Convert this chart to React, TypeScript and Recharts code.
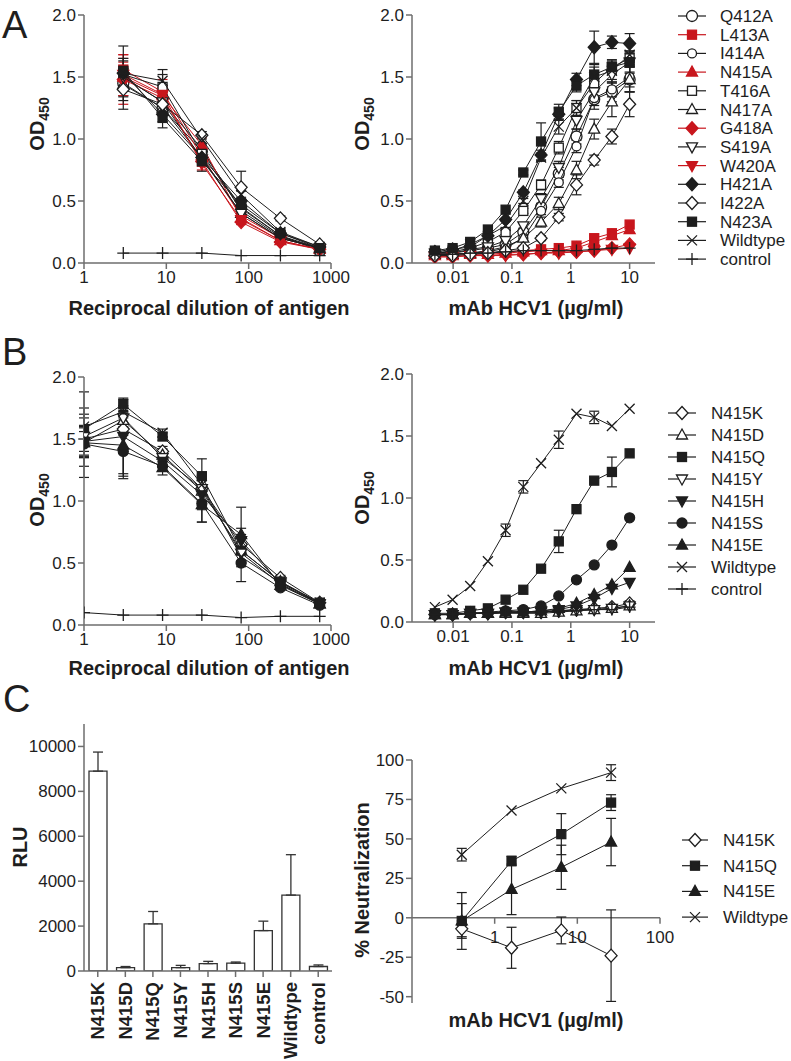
import React from "react";
import { ScatterChart, Scatter, XAxis, YAxis, ErrorBar, BarChart, Bar, ReferenceLine } from "recharts";

const FONT = '"Liberation Sans", Arial, Helvetica, sans-serif';
const INK = "#1e1e1e";
const AXIS = "#6e6e6e";
const RED = "#c8161d";

// x values
const dilutionA = [3, 9, 27, 81, 243, 729];
const dilutionB = [1, 3, 9, 27, 81, 243, 729];
const mabConc = [0.0049, 0.0098, 0.0195, 0.039, 0.078, 0.156, 0.3125, 0.625, 1.25, 2.5, 5, 10];
const neutConc = [0.4, 1.6, 6.4, 25.6];

// series names
const namesA = ["Q412A", "L413A", "I414A", "N415A", "T416A", "N417A", "G418A", "S419A", "W420A", "H421A", "I422A", "N423A", "Wildtype", "control"];
const namesB = ["N415K", "N415D", "N415Q", "N415Y", "N415H", "N415S", "N415E", "Wildtype", "control"];
const namesC = ["N415K", "N415Q", "N415E", "Wildtype"];

// panel A, antigen dilution (OD450), one row per name
const odAntigenA = [
  [1.45, 1.25, 0.9, 0.45, 0.22, 0.12],
  [1.56, 1.38, 0.86, 0.38, 0.2, 0.12],
  [1.5, 1.3, 0.92, 0.42, 0.21, 0.12],
  [1.5, 1.35, 0.95, 0.36, 0.18, 0.11],
  [1.52, 1.42, 0.88, 0.44, 0.22, 0.1],
  [1.44, 1.25, 0.85, 0.4, 0.2, 0.12],
  [1.48, 1.33, 0.82, 0.33, 0.17, 0.11],
  [1.5, 1.3, 0.84, 0.4, 0.2, 0.12],
  [1.52, 1.36, 0.8, 0.35, 0.18, 0.11],
  [1.53, 1.2, 0.85, 0.5, 0.24, 0.13],
  [1.4, 1.28, 1.03, 0.61, 0.36, 0.15],
  [1.55, 1.17, 0.82, 0.47, 0.24, 0.12],
  [1.53, 1.47, 1.0, 0.55, 0.25, 0.13],
  [0.08, 0.08, 0.08, 0.06, 0.06, 0.06],
];
const errAntigenA = [
  [0.1, 0.05, 0.03, 0.02, 0.01, 0],
  [0.12, 0.1, 0.05, 0.03, 0, 0],
  [0.08, 0.04, 0, 0.02, 0, 0],
  [0.15, 0.08, 0.06, 0.02, 0, 0],
  [0.05, 0.1, 0.03, 0.02, 0, 0],
  [0.1, 0.05, 0.03, 0, 0, 0],
  [0.2, 0.06, 0.04, 0.02, 0, 0],
  [0.08, 0.04, 0.03, 0, 0, 0],
  [0.1, 0.06, 0.05, 0.02, 0, 0],
  [0.12, 0.06, 0.05, 0.03, 0.01, 0],
  [0.16, 0.04, 0.03, 0.13, 0.02, 0],
  [0.08, 0.08, 0.08, 0.03, 0.02, 0.01],
  [0.22, 0.09, 0.04, 0.03, 0.01, 0],
  [0, 0, 0, 0, 0, 0],
];

// panel A, mAb titration
const odMabA = [
  [0.08, 0.08, 0.1, 0.12, 0.15, 0.25, 0.45, 0.72, 1.02, 1.32, 1.38, 1.48],
  [0.07, 0.07, 0.08, 0.08, 0.09, 0.1, 0.11, 0.12, 0.14, 0.2, 0.24, 0.31],
  [0.07, 0.07, 0.08, 0.1, 0.13, 0.2, 0.42, 0.65, 0.94, 1.33, 1.4, 1.5],
  [0.06, 0.06, 0.07, 0.07, 0.08, 0.09, 0.1, 0.1, 0.12, 0.17, 0.22, 0.27],
  [0.08, 0.09, 0.12, 0.17, 0.25, 0.42, 0.63, 0.93, 1.25, 1.45, 1.58, 1.65],
  [0.07, 0.07, 0.08, 0.09, 0.12, 0.2, 0.33, 0.48, 0.75, 1.08, 1.3, 1.48],
  [0.05, 0.05, 0.06, 0.06, 0.07, 0.07, 0.08, 0.09, 0.09, 0.1, 0.12, 0.15],
  [0.08, 0.08, 0.11, 0.13, 0.18, 0.3, 0.52, 0.77, 1.15, 1.38, 1.52, 1.62],
  [0.05, 0.05, 0.06, 0.06, 0.06, 0.07, 0.08, 0.08, 0.09, 0.1, 0.11, 0.12],
  [0.09, 0.11, 0.13, 0.22, 0.35, 0.57, 0.87, 1.2, 1.48, 1.74, 1.78, 1.77],
  [0.06, 0.06, 0.07, 0.08, 0.1, 0.12, 0.2, 0.37, 0.63, 0.83, 1.02, 1.28],
  [0.1, 0.12, 0.17, 0.27, 0.43, 0.73, 0.98, 1.22, 1.43, 1.52, 1.58, 1.62],
  [0.08, 0.1, 0.15, 0.22, 0.3, 0.5, 0.85, 1.1, 1.25, 1.5, 1.55, 1.68],
  [0.07, 0.07, 0.08, 0.08, 0.09, 0.1, 0.1, 0.1, 0.1, 0.11, 0.12, 0.12],
];
const errMabA = [
  [0, 0, 0, 0, 0, 0, 0.03, 0.05, 0.06, 0.08, 0.08, 0.1],
  [0, 0, 0, 0, 0, 0, 0, 0, 0, 0, 0, 0],
  [0, 0, 0, 0, 0, 0, 0.03, 0.04, 0.05, 0.06, 0.06, 0.08],
  [0, 0, 0, 0, 0, 0, 0, 0, 0, 0, 0, 0],
  [0, 0, 0, 0, 0, 0.02, 0.04, 0.05, 0.06, 0.07, 0.06, 0.06],
  [0, 0, 0, 0, 0, 0.02, 0.04, 0.05, 0.07, 0.08, 0.12, 0.1],
  [0, 0, 0, 0, 0, 0, 0, 0, 0, 0, 0, 0],
  [0, 0, 0, 0, 0, 0.02, 0.04, 0.05, 0.07, 0.08, 0.07, 0.09],
  [0, 0, 0, 0, 0, 0, 0, 0, 0, 0, 0, 0],
  [0, 0, 0, 0, 0, 0.02, 0.04, 0.05, 0.05, 0.13, 0.05, 0.08],
  [0, 0, 0, 0, 0, 0, 0.02, 0.03, 0.08, 0.04, 0.06, 0.1],
  [0, 0, 0, 0, 0, 0.02, 0.15, 0.06, 0.05, 0.08, 0.05, 0.08],
  [0, 0, 0, 0, 0, 0.02, 0.03, 0.06, 0.06, 0.08, 0.07, 0.08],
  [0, 0, 0, 0, 0, 0, 0, 0, 0, 0, 0, 0],
];

// panel B, antigen dilution
const odAntigenB = [
  [1.5, 1.58, 1.4, 1.1, 0.65, 0.38, 0.18],
  [1.47, 1.65, 1.37, 1.08, 0.6, 0.35, 0.17],
  [1.58, 1.78, 1.52, 1.2, 0.6, 0.35, 0.18],
  [1.52, 1.67, 1.35, 1.1, 0.58, 0.33, 0.17],
  [1.48, 1.52, 1.32, 1.05, 0.68, 0.33, 0.17],
  [1.46, 1.4, 1.28, 0.98, 0.5, 0.3, 0.16],
  [1.47, 1.45, 1.27, 0.97, 0.73, 0.32, 0.17],
  [1.6, 1.72, 1.55, 1.13, 0.55, 0.34, 0.18],
  [0.1, 0.08, 0.08, 0.08, 0.06, 0.07, 0.07],
];
const errAntigenB = [
  [0.1, 0.05, 0.04, 0.1, 0.08, 0.02, 0],
  [0.28, 0.06, 0.05, 0.12, 0.1, 0.02, 0],
  [0.3, 0.05, 0.03, 0.14, 0.1, 0.02, 0.01],
  [0.15, 0.05, 0.04, 0.1, 0.08, 0.02, 0],
  [0.13, 0.3, 0.05, 0.12, 0.1, 0.02, 0],
  [0.1, 0.2, 0.04, 0.15, 0.15, 0.02, 0],
  [0.12, 0.27, 0.06, 0.14, 0.22, 0.02, 0],
  [0.1, 0.05, 0.03, 0.08, 0.08, 0.02, 0],
  [0, 0, 0, 0, 0, 0, 0],
];

// panel B, mAb titration
const odMabB = [
  [0.06, 0.06, 0.07, 0.07, 0.08, 0.08, 0.08, 0.09, 0.1, 0.11, 0.12, 0.15],
  [0.06, 0.06, 0.07, 0.07, 0.07, 0.07, 0.07, 0.08, 0.09, 0.1, 0.11, 0.13],
  [0.07, 0.07, 0.09, 0.11, 0.18, 0.26, 0.43, 0.65, 0.91, 1.14, 1.21, 1.36],
  [0.06, 0.06, 0.07, 0.07, 0.08, 0.08, 0.08, 0.09, 0.1, 0.1, 0.11, 0.13],
  [0.06, 0.06, 0.07, 0.07, 0.08, 0.08, 0.09, 0.1, 0.13, 0.19, 0.27, 0.32],
  [0.06, 0.06, 0.07, 0.08, 0.09, 0.1, 0.13, 0.21, 0.34, 0.46, 0.62, 0.84],
  [0.06, 0.06, 0.07, 0.07, 0.08, 0.08, 0.09, 0.11, 0.15, 0.22, 0.3, 0.44],
  [0.12, 0.18, 0.29, 0.49, 0.74, 1.09, 1.28, 1.47, 1.68, 1.65, 1.58, 1.72],
  [0.06, 0.06, 0.07, 0.07, 0.08, 0.08, 0.08, 0.09, 0.09, 0.1, 0.1, 0.12],
];
const errMabB = [
  [0, 0, 0, 0, 0, 0, 0, 0, 0, 0, 0, 0.02],
  [0, 0, 0, 0, 0, 0, 0, 0, 0, 0, 0, 0],
  [0, 0, 0, 0, 0, 0, 0, 0.09, 0, 0, 0.12, 0],
  [0, 0, 0, 0, 0, 0, 0, 0, 0, 0, 0, 0],
  [0, 0, 0, 0, 0, 0, 0, 0, 0, 0, 0, 0],
  [0, 0, 0, 0, 0, 0, 0, 0, 0, 0, 0, 0],
  [0, 0, 0, 0, 0, 0, 0, 0, 0, 0, 0, 0],
  [0, 0, 0, 0, 0.05, 0.05, 0, 0.07, 0, 0.05, 0, 0],
  [0, 0, 0, 0, 0, 0, 0, 0, 0, 0, 0, 0],
];

// panel C, infectivity
const rluLabels = ["N415K", "N415D", "N415Q", "N415Y", "N415H", "N415S", "N415E", "Wildtype", "control"];
const rluValues = [8900, 150, 2100, 150, 330, 350, 1800, 3380, 200];
const rluErrors = [850, 50, 550, 100, 100, 50, 420, 1800, 70];

// panel C, neutralization
const neutValues = [
  [-7, -19, -8, -24],
  [-2, 36, 53, 73],
  [-2, 18, 32, 48],
  [40, 68, 82, 92],
];
const neutErrors = [
  [5, 13, 8.5, 29],
  [18, 3, 13, 5],
  [11, 16, 14, 15],
  [4, 0, 0, 5],
];

type Mark = { shape: string; open: boolean; color: string; r?: number };

const marksA: Mark[] = [
  { shape: "circle", open: true, color: INK, r: 5.5 },
  { shape: "square", open: false, color: RED },
  { shape: "circle", open: true, color: INK, r: 4.5 },
  { shape: "triangle", open: false, color: RED },
  { shape: "square", open: true, color: INK },
  { shape: "triangle", open: true, color: INK },
  { shape: "diamond", open: false, color: RED },
  { shape: "triDown", open: true, color: INK },
  { shape: "triDown", open: false, color: RED },
  { shape: "diamond", open: false, color: INK },
  { shape: "diamond", open: true, color: INK },
  { shape: "square", open: false, color: INK },
  { shape: "cross", open: false, color: INK },
  { shape: "plus", open: false, color: INK },
];

const marksB: Mark[] = [
  { shape: "diamond", open: true, color: INK },
  { shape: "triangle", open: true, color: INK },
  { shape: "square", open: false, color: INK },
  { shape: "triDown", open: true, color: INK },
  { shape: "triDown", open: false, color: INK },
  { shape: "circle", open: false, color: INK, r: 5 },
  { shape: "triangle", open: false, color: INK },
  { shape: "cross", open: false, color: INK },
  { shape: "plus", open: false, color: INK },
];

const marksC: Mark[] = [marksB[0], marksB[2], marksB[6], marksB[7]];

function Marker({ cx, cy, m }: { cx: number; cy: number; m: Mark }) {
  if (cx == null || cy == null || isNaN(cx) || isNaN(cy)) return null;
  const p = { fill: m.open ? "#fff" : m.color, stroke: m.color, strokeWidth: 1.3 };
  switch (m.shape) {
    case "circle":
      return <circle cx={cx} cy={cy} r={m.r ?? 4.5} {...p} />;
    case "square":
      return <rect x={cx - 4.5} y={cy - 4.5} width={9} height={9} {...p} />;
    case "triangle":
      return <polygon points={`${cx},${cy - 6} ${cx + 5.5},${cy + 4} ${cx - 5.5},${cy + 4}`} {...p} />;
    case "triDown":
      return <polygon points={`${cx},${cy + 6} ${cx + 5.5},${cy - 4} ${cx - 5.5},${cy - 4}`} {...p} />;
    case "diamond":
      return <polygon points={`${cx},${cy - 6.5} ${cx + 6},${cy} ${cx},${cy + 6.5} ${cx - 6},${cy}`} {...p} />;
    case "cross":
      return <path d={`M${cx - 5},${cy - 5}L${cx + 5},${cy + 5}M${cx - 5},${cy + 5}L${cx + 5},${cy - 5}`} stroke={m.color} strokeWidth={1.3} fill="none" />;
    default:
      return <path d={`M${cx},${cy - 6}V${cy + 6}M${cx - 6},${cy}H${cx + 6}`} stroke={m.color} strokeWidth={1.3} fill="none" />;
  }
}

const tickStyle = { fill: INK, fontSize: 17, fontFamily: FONT };
const axisStyle = { stroke: AXIS, strokeWidth: 1.5 };

function DosePlot(props: any) {
  const { left, top, width, height, margin, yWidth, xs, rows, errs, marks, xDomain, xTicks } = props;
  return (
    <div style={{ position: "absolute", left, top }}>
      <ScatterChart width={width} height={height} margin={margin}>
        <XAxis
          type="number"
          dataKey="x"
          scale="log"
          domain={xDomain}
          ticks={xTicks}
          allowDataOverflow
          height={30}
          tick={tickStyle}
          axisLine={axisStyle}
          tickLine={axisStyle}
          tickSize={6}
          tickFormatter={(v: number) => String(v)}
        />
        <YAxis
          type="number"
          dataKey="y"
          domain={[0, 2]}
          ticks={[0, 0.5, 1, 1.5, 2]}
          allowDataOverflow
          width={yWidth}
          tick={tickStyle}
          axisLine={axisStyle}
          tickLine={axisStyle}
          tickSize={6}
          tickFormatter={(v: number) => v.toFixed(1)}
        />
        {rows.map((ys: number[], i: number) => {
          const m: Mark = marks[i];
          const data = xs.map((x: number, j: number) => ({ x, y: ys[j], e: errs[i][j] }));
          return (
            <Scatter
              key={i}
              data={data}
              line={{ stroke: m.color, strokeWidth: 1 }}
              shape={(p: any) => <Marker cx={p.cx} cy={p.cy} m={m} />}
              isAnimationActive={false}
            >
              <ErrorBar dataKey="e" direction="y" width={5} stroke={m.color} strokeWidth={1.2} />
            </Scatter>
          );
        })}
      </ScatterChart>
    </div>
  );
}

function RotTick({ x, y, payload }: any) {
  return (
    <text
      transform={`translate(${x},${y + 3}) rotate(-90)`}
      textAnchor="end"
      dominantBaseline="central"
      fontSize={18.5}
      fontWeight="bold"
      fill={INK}
      fontFamily={FONT}
    >
      {payload.value}
    </text>
  );
}

function RluPlot() {
  const data = rluLabels.map((name, i) => ({ name, v: rluValues[i], e: [0, rluErrors[i]] }));
  return (
    <div style={{ position: "absolute", left: 0, top: 700 }}>
      <BarChart width={360} height={361} data={data} margin={{ top: 24, right: 28, left: 0, bottom: 0 }} barSize={18}>
        <XAxis dataKey="name" interval={0} height={90} tick={<RotTick />} axisLine={axisStyle} tickLine={axisStyle} tickSize={6} />
        <YAxis
          type="number"
          domain={[0, 11000]}
          ticks={[0, 2000, 4000, 6000, 8000, 10000]}
          allowDataOverflow
          width={84}
          tick={tickStyle}
          axisLine={axisStyle}
          tickLine={axisStyle}
          tickSize={6}
        />
        <Bar dataKey="v" fill="#fff" stroke="#333" strokeWidth={1.3} isAnimationActive={false}>
          <ErrorBar dataKey="e" direction="y" width={5} stroke="#333" strokeWidth={1.3} />
        </Bar>
      </BarChart>
    </div>
  );
}

function NeutPlot() {
  const height = 361;
  const margin = { top: 60, right: 20, left: 0, bottom: 28 };
  const xHeight = 30;
  const yDomain = [-54, 100];
  const plotH = height - margin.top - margin.bottom - xHeight;
  const zeroY = margin.top + (plotH * yDomain[1]) / (yDomain[1] - yDomain[0]);
  const ZeroTick = ({ x, payload }: any) => (
    <g>
      <line x1={x} x2={x} y1={zeroY} y2={zeroY + 6} stroke={AXIS} strokeWidth={1.5} />
      <text x={x} y={zeroY + 25} textAnchor="middle" fontSize={17} fill={INK} fontFamily={FONT}>
        {payload.value}
      </text>
    </g>
  );
  return (
    <div style={{ position: "absolute", left: 340, top: 700 }}>
      <ScatterChart width={340} height={height} margin={margin}>
        <XAxis
          type="number"
          dataKey="x"
          scale="log"
          domain={[0.1, 100]}
          ticks={[1, 10, 100]}
          allowDataOverflow
          height={xHeight}
          axisLine={false}
          tickLine={false}
          tick={<ZeroTick />}
        />
        <YAxis
          type="number"
          dataKey="y"
          domain={yDomain}
          ticks={[-50, -25, 0, 25, 50, 75, 100]}
          allowDataOverflow
          width={72}
          tick={tickStyle}
          axisLine={axisStyle}
          tickLine={axisStyle}
          tickSize={6}
        />
        <ReferenceLine y={0} stroke={AXIS} strokeWidth={1.5} />
        {neutValues.map((ys, i) => {
          const m = marksC[i];
          const data = neutConc.map((x, j) => ({ x, y: ys[j], e: neutErrors[i][j] }));
          return (
            <Scatter
              key={i}
              data={data}
              line={{ stroke: m.color, strokeWidth: 1 }}
              shape={(p: any) => <Marker cx={p.cx} cy={p.cy} m={m} />}
              isAnimationActive={false}
            >
              <ErrorBar dataKey="e" direction="y" width={5} stroke={m.color} strokeWidth={1.2} />
            </Scatter>
          );
        })}
      </ScatterChart>
    </div>
  );
}

function LegendBlock({ names, marks, x, y0, step, half, textX }: any) {
  return (
    <g>
      {names.map((n: string, i: number) => {
        const y = y0 + i * step;
        const m: Mark = marks[i];
        return (
          <g key={n + i}>
            <line x1={x - half} x2={x + half} y1={y} y2={y} stroke={m.color} strokeWidth={1.2} />
            <Marker cx={x} cy={y} m={m} />
            <text x={textX} y={y + 6} fontSize={17} fill={INK} fontFamily={FONT}>
              {n}
            </text>
          </g>
        );
      })}
    </g>
  );
}

function OdTitle({ x, y }: { x: number; y: number }) {
  return (
    <text transform={`translate(${x},${y}) rotate(-90)`} textAnchor="middle" fontSize={20} fontWeight="bold" fill={INK} fontFamily={FONT}>
      OD<tspan fontSize={14} dy={5}>450</tspan>
    </text>
  );
}

function Title({ x, y, text, rotate }: { x: number; y: number; text: string; rotate?: boolean }) {
  return (
    <text
      transform={`translate(${x},${y})${rotate ? " rotate(-90)" : ""}`}
      textAnchor="middle"
      fontSize={20}
      fontWeight="bold"
      fill={INK}
      fontFamily={FONT}
    >
      {text}
    </text>
  );
}

export default function App() {
  const mabTicks = [0.01, 0.1, 1, 10];
  const mabDomain = [0.002, 27];
  return (
    <div style={{ position: "absolute", left: 0, top: 0, width: 791, height: 1061, background: "#fff", overflow: "hidden" }}>
      <DosePlot left={0} top={0} width={360} height={300} margin={{ top: 15, right: 29, bottom: 7, left: 0 }} yWidth={84}
        xs={dilutionA} rows={odAntigenA} errs={errAntigenA} marks={marksA} xDomain={[1, 1000]} xTicks={[1, 10, 100, 1000]} />
      <DosePlot left={340} top={0} width={340} height={300} margin={{ top: 15, right: 25, bottom: 7, left: 0 }} yWidth={72}
        xs={mabConc} rows={odMabA} errs={errMabA} marks={marksA} xDomain={mabDomain} xTicks={mabTicks} />
      <DosePlot left={0} top={300} width={360} height={360} margin={{ top: 77, right: 29, bottom: 5, left: 0 }} yWidth={84}
        xs={dilutionB} rows={odAntigenB} errs={errAntigenB} marks={marksB} xDomain={[1, 1000]} xTicks={[1, 10, 100, 1000]} />
      <DosePlot left={340} top={300} width={340} height={360} margin={{ top: 74, right: 25, bottom: 8, left: 0 }} yWidth={72}
        xs={mabConc} rows={odMabB} errs={errMabB} marks={marksB} xDomain={mabDomain} xTicks={mabTicks} />
      <RluPlot />
      <NeutPlot />
      <svg width={791} height={1061} style={{ position: "absolute", left: 0, top: 0, pointerEvents: "none" }}>
        <text x={2} y={38} fontSize={38} fill={INK} fontFamily={FONT}>A</text>
        <text x={2} y={365} fontSize={38} fill={INK} fontFamily={FONT}>B</text>
        <text x={3} y={712} fontSize={38} fill={INK} fontFamily={FONT}>C</text>

        <OdTitle x={44} y={124} />
        <OdTitle x={369} y={124} />
        <OdTitle x={44} y={500} />
        <OdTitle x={369} y={498} />
        <Title x={209} y={315} text="Reciprocal dilution of antigen" />
        <Title x={536} y={315} text="mAb HCV1 (µg/ml)" />
        <Title x={209} y={675} text="Reciprocal dilution of antigen" />
        <Title x={536} y={675} text="mAb HCV1 (µg/ml)" />
        <Title x={27} y={847} text="RLU" rotate />
        <Title x={369} y={880} text="% Neutralization" rotate />
        <Title x={536} y={1027} text="mAb HCV1 (µg/ml)" />

        <LegendBlock names={namesA} marks={marksA} x={692} y0={16} step={18.7} half={14} textX={720} />
        <LegendBlock names={namesB} marks={marksB} x={682} y0={413} step={22} half={14} textX={711} />
        <LegendBlock names={namesC} marks={marksC} x={695} y0={840} step={25.7} half={13} textX={723} />
      </svg>
    </div>
  );
}
